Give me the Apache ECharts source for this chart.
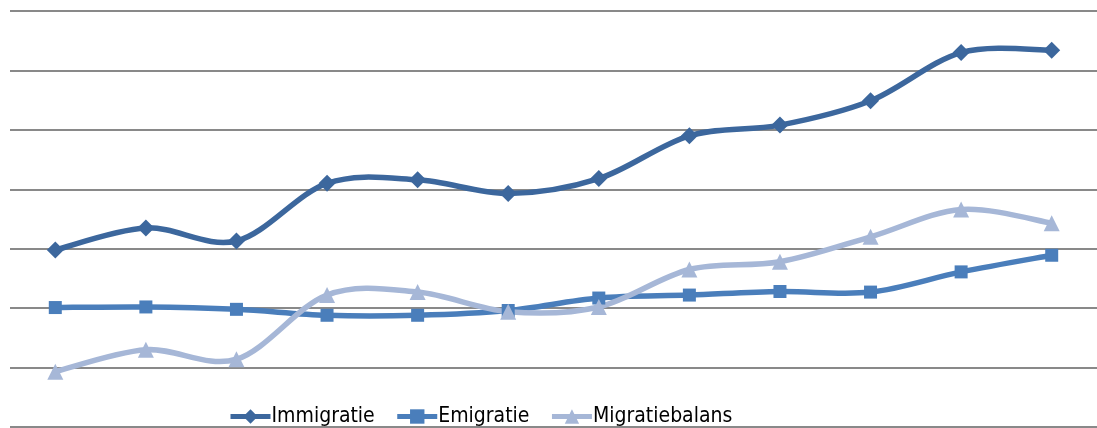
<!DOCTYPE html>
<html>
<head>
<meta charset="utf-8">
<script src="https://cdn.jsdelivr.net/npm/echarts@6/dist/echarts.min.js"></script>
<style>
html,body{margin:0;padding:0;background:#fff;overflow:hidden;}
#c{width:1097px;height:428px;}
</style>
</head>
<body>
<div id="c"></div>
<script>
var categories = ['2000','2001','2002','2003','2004','2005','2006','2007','2008','2009','2010','2011'];
var immigratie = [59.6, 67.0, 62.6, 82.0, 83.2, 78.6, 83.6, 98.0, 101.6, 109.8, 126.0, 126.8];
var emigratie = [40.2, 40.4, 39.6, 37.6, 37.6, 39.2, 43.4, 44.4, 45.6, 45.4, 52.2, 57.8];
var migratiebalans = [18.6, 26.0, 22.8, 44.4, 45.4, 38.8, 40.4, 53.0, 55.6, 64.0, 73.2, 68.6];
var seriesNames = ['Immigratie', 'Emigratie', 'Migratiebalans'];

var chart = echarts.init(document.getElementById('c'), null, {renderer: 'canvas'});
var fontFam = '"DejaVu Sans Condensed", "Liberation Sans", sans-serif';
var LW = 5.5;

// Excel-like smooth curve (Catmull-Rom -> Bezier) drawn via the library's coordinate system
function curveSeries(key, data, color) {
  return {
    name: key, type: 'custom', data: data.map(function (v, i) { return [i, v]; }),
    encode: {x: 0, y: 1}, silent: true, clip: false,
    renderItem: function (params, api) {
      if (params.dataIndex !== 0) return null;
      var p = data.map(function (v, i) { return api.coord([i, v]); });
      var children = [];
      for (var i = 0; i < p.length - 1; i++) {
        var p0 = p[Math.max(i - 1, 0)], p1 = p[i], p2 = p[i + 1], p3 = p[Math.min(i + 2, p.length - 1)];
        children.push({
          type: 'bezierCurve',
          shape: {
            x1: p1[0], y1: p1[1], x2: p2[0], y2: p2[1],
            cpx1: p1[0] + (p2[0] - p0[0]) / 6, cpy1: p1[1] + (p2[1] - p0[1]) / 6,
            cpx2: p2[0] - (p3[0] - p1[0]) / 6, cpy2: p2[1] - (p3[1] - p1[1]) / 6
          },
          style: {stroke: color, lineWidth: LW, fill: null, lineCap: 'round'}
        });
      }
      return {type: 'group', children: children};
    }
  };
}
function markerSeries(name, data, color, symbol, size) {
  return {
    name: name, type: 'line', data: data,
    symbol: symbol, symbolSize: size, showSymbol: true,
    lineStyle: {color: color, width: LW, opacity: 0},
    itemStyle: {color: color},
    emphasis: {disabled: true}
  };
}
chart.setOption({
  animation: false,
  backgroundColor: '#fff',
  grid: {left: 10, width: 1093, top: 11, bottom: 1, containLabel: false},
  xAxis: {
    type: 'category', data: categories, boundaryGap: true,
    axisLine: {show: false}, axisTick: {show: false}, axisLabel: {show: false}
  },
  yAxis: {
    type: 'value', min: 0, max: 140, interval: 20,
    axisLine: {show: false}, axisTick: {show: false}, axisLabel: {show: false},
    splitLine: {show: true, lineStyle: {color: '#898989', width: 2}}
  },
  legend: {
    top: 406, left: 228, padding: 0, itemWidth: 40, itemHeight: 18, itemGap: 20,
    lineStyle: {width: 5, opacity: 1},
    textStyle: {fontSize: 21, color: '#000', fontFamily: fontFam, padding: [0,0,0,-4]},
    data: seriesNames
  },
  series: [
    curveSeries('_c0', immigratie, '#3c679d'),
    markerSeries(seriesNames[0], immigratie, '#3c679d', 'diamond', 17),
    curveSeries('_c1', emigratie, '#4a7ebb'),
    markerSeries(seriesNames[1], emigratie, '#4a7ebb', 'rect', 13),
    curveSeries('_c2', migratiebalans, '#a6b7d7'),
    markerSeries(seriesNames[2], migratiebalans, '#a6b7d7', 'triangle', 16)
  ]
});
</script>
</body>
</html>
